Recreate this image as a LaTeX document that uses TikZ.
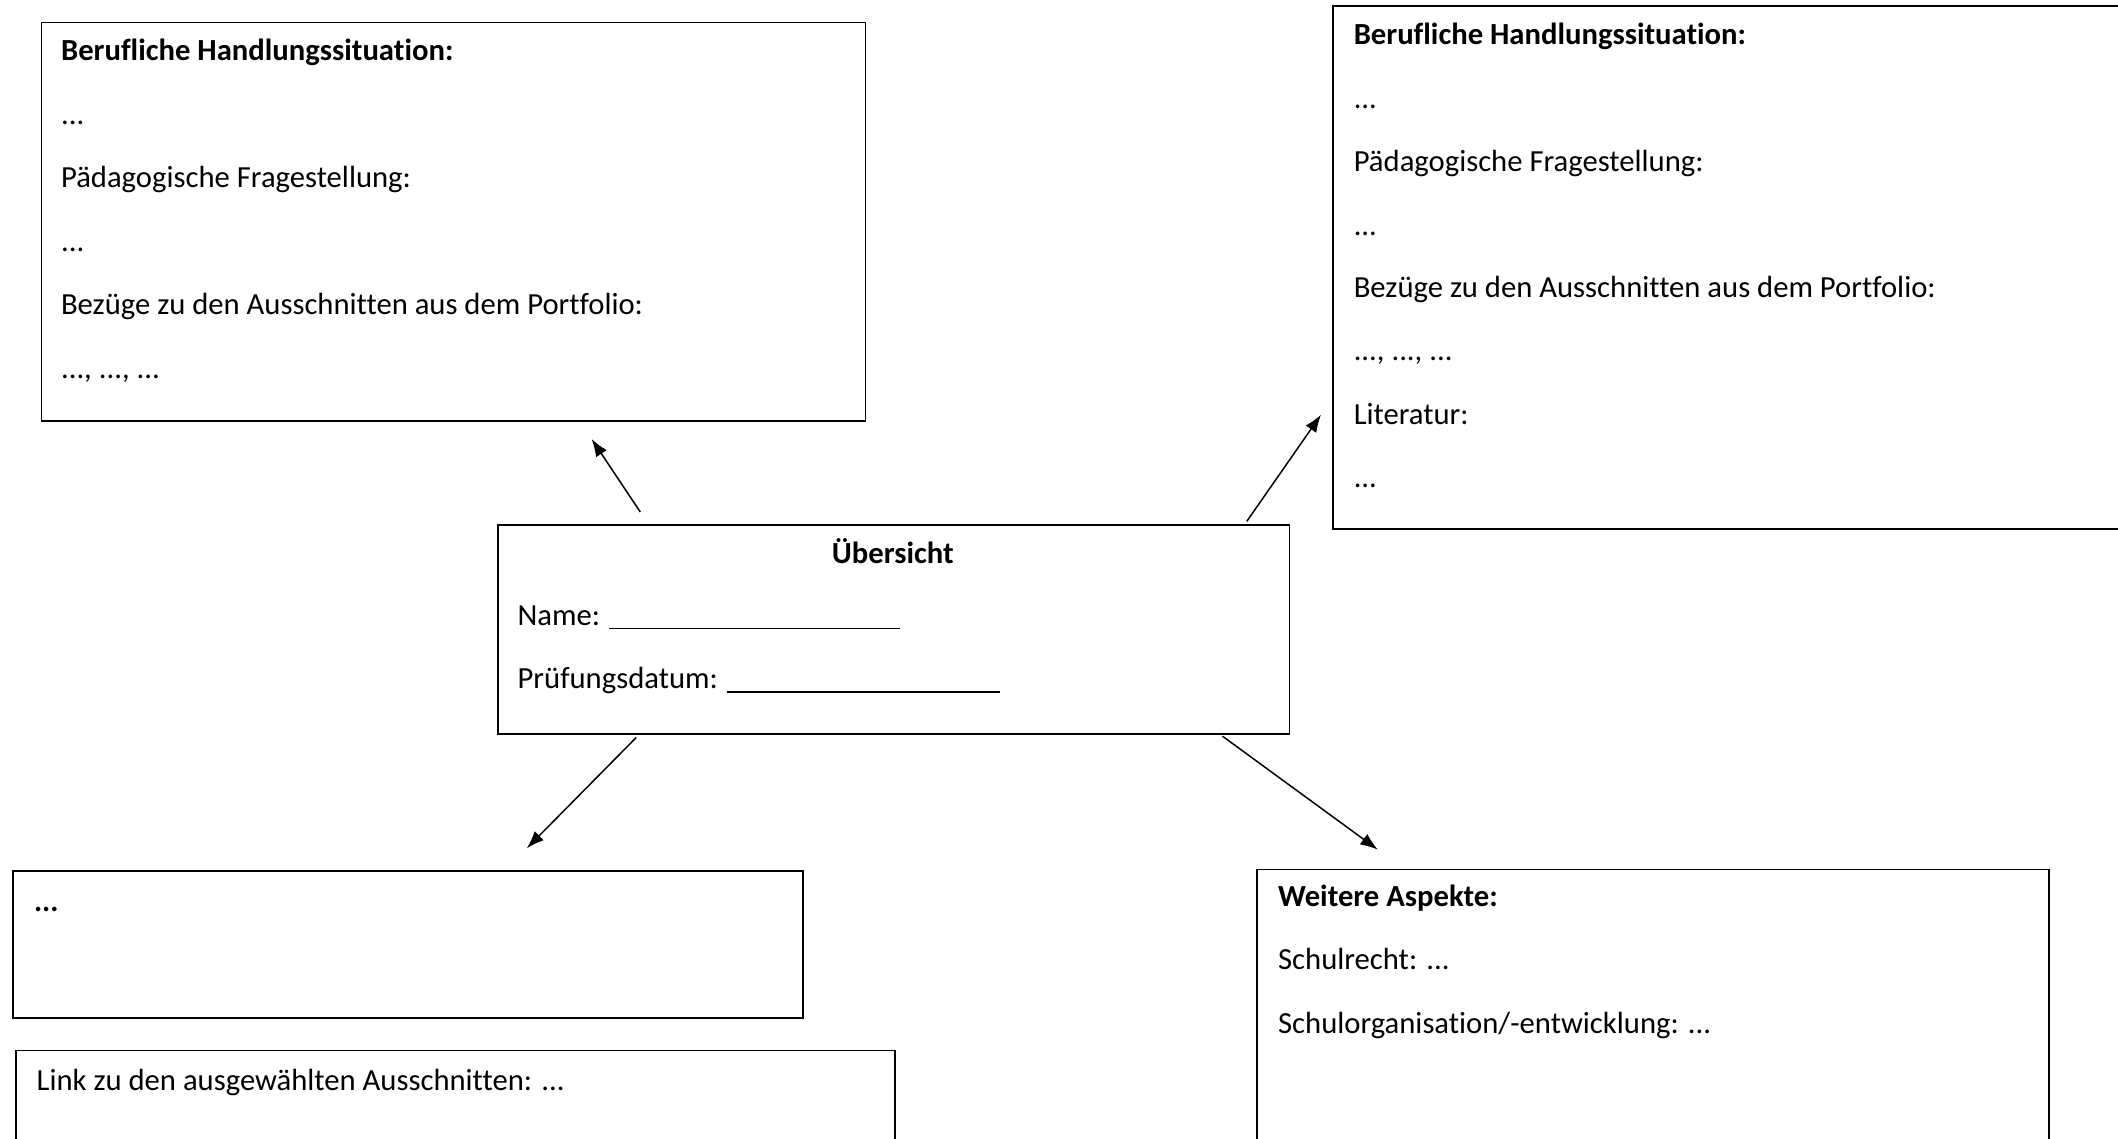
\documentclass[tikz,border=0pt]{standalone}
\usepackage{fontspec}
\setmainfont{Carlito}[Ligatures=NoCommon]
\usetikzlibrary{arrows.meta}
\begin{document}
\begin{tikzpicture}[x=1pt,y=-1pt,
  box/.style={draw=black,line width=1.3pt,anchor=north west,inner sep=0pt},
  txt/.style={anchor=base west,inner sep=0pt,font=\fontsize{22.7}{26}\selectfont},
  btxt/.style={anchor=base west,inner sep=0pt,font=\fontsize{22.7}{26}\selectfont\bfseries},
  conn/.style={line width=1.1pt,-{Latex[length=13pt,width=9.5pt]}}]
\useasboundingbox (0,0) rectangle (1568,843);
\clip (0,0) rectangle (1568,843);
% boxes
\node[box,minimum width=610pt,minimum height=295pt] (hsl) at (30,16) {};
\node[box,minimum width=640pt,minimum height=387pt] (hsr) at (986,4) {};
\node[box,minimum width=586pt,minimum height=155pt] (ov) at (368,388) {};
\node[box,minimum width=585pt,minimum height=109pt] (dots) at (9,644) {};
\node[box,minimum width=651pt,minimum height=120pt] (link) at (11,777) {};
\node[box,minimum width=586pt,minimum height=250pt] (wa) at (930,643) {};
% left top texts
\node[btxt] (l1) at (45,45) {Berufliche Handlungssituation:};
\node[txt] (l2) at (45,92) {...};
\node[txt] (l3) at (45,139) {Pädagogische Fragestellung:};
\node[txt] (l4) at (45,186) {...};
\node[txt] (l5) at (45,233) {Bezüge zu den Ausschnitten aus dem Portfolio:};
\node[txt] (l6) at (45,280) {..., ..., ...};
% right top texts
\node[btxt] (r1) at (1002,33) {Berufliche Handlungssituation:};
\node[txt] (r2) at (1002,80) {...};
\node[txt] (r3) at (1002,127) {Pädagogische Fragestellung:};
\node[txt] (r4) at (1002,174) {...};
\node[txt] (r5) at (1002,220) {Bezüge zu den Ausschnitten aus dem Portfolio:};
\node[txt] (r6) at (1002,267) {..., ..., ...};
\node[txt] (r7) at (1002,314) {Literatur:};
\node[txt] (r8) at (1002,361) {...};
% overview
\node[btxt,anchor=base] (o1) at (661,417) {Übersicht};
\node[txt] (o2) at (383,463) {Name: \rule[-3pt]{215pt}{1.1pt}};
\node[txt] (o3) at (383,510) {Prüfungsdatum: \rule[-3pt]{202pt}{1.1pt}};
% bottom left
\node[btxt] (d1) at (25,675) {...};
\node[txt] (k1) at (27,807) {Link zu den ausgewählten Ausschnitten: ...};
% bottom right
\node[btxt] (w1) at (946,671) {Weitere Aspekte:};
\node[txt] (w2) at (946,718) {Schulrecht: ...};
\node[txt] (w3) at (946,765) {Schulorganisation/-entwicklung: ...};
% connectors
\coordinate (a1s) at (474,379); \coordinate (a1e) at (438,325);
\coordinate (a2s) at (923,386); \coordinate (a2e) at (978,307);
\coordinate (a3s) at (471,546); \coordinate (a3e) at (390,628);
\coordinate (a4s) at (905,545); \coordinate (a4e) at (1020,629);
\draw[conn] (a1s) -- (a1e);
\draw[conn] (a2s) -- (a2e);
\draw[conn] (a3s) -- (a3e);
\draw[conn] (a4s) -- (a4e);
\end{tikzpicture}
\end{document}
